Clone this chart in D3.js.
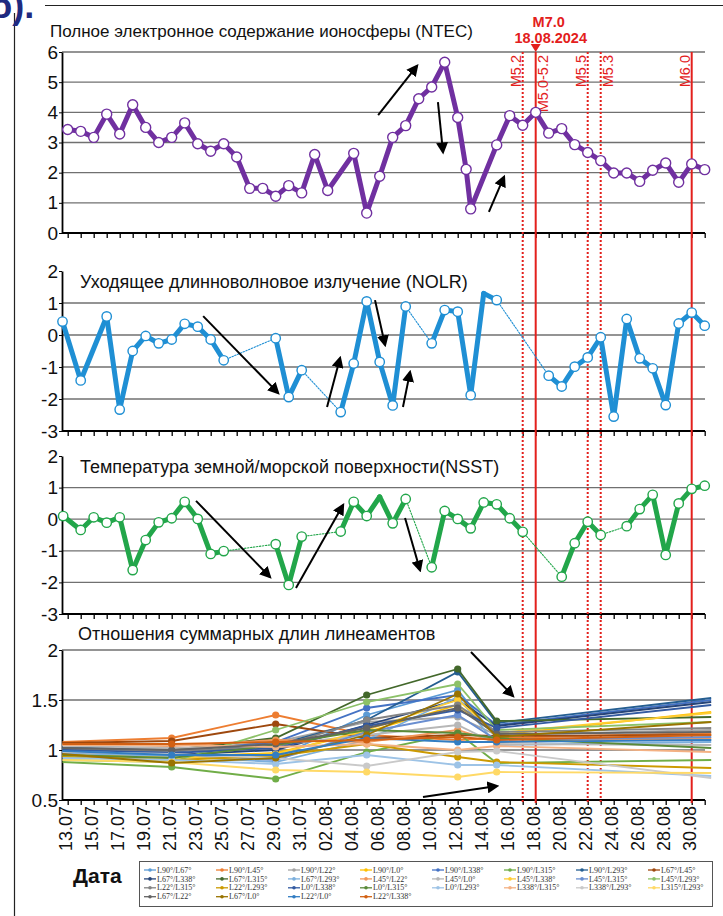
<!DOCTYPE html>
<html><head><meta charset="utf-8">
<script src="https://cdn.jsdelivr.net/npm/d3@7"></script>
<style>body{margin:0;background:#fff}svg{display:block}</style>
</head><body>
<svg id="c" width="723" height="916"></svg>
<script>
// ---------- DATA ----------
const dateLabels = ["13.07","15.07","17.07","19.07","21.07","23.07","25.07","27.07","29.07","31.07","02.08","04.08","06.08","08.08","10.08","12.08","14.08","16.08","18.08","20.08","22.08","24.08","26.08","28.08","30.08"];
const labelDays = [0,2,4,6,8,10,12,14,16,18,20,22,24,26,28,30,32,34,36,38,40,42,44,46,48];

const ntecDays = [0,1,2,3,4,5,6,7,8,9,10,11,12,13,14,15,16,17,18,19,20,22,23,24,25,26,27,28,29,30,30.65,31,33,34,35,36,37,38,39,40,41,42,43,44,45,46,47,48,49];
const ntecVals = [3.43,3.37,3.17,3.94,3.28,4.25,3.50,3.00,3.17,3.65,2.96,2.71,2.96,2.52,1.48,1.48,1.22,1.57,1.33,2.60,1.41,2.64,0.66,1.88,3.17,3.56,4.45,4.84,5.66,3.83,2.11,0.80,2.92,3.89,3.57,4.00,3.31,3.46,2.93,2.67,2.40,1.99,1.99,1.71,2.08,2.32,1.68,2.29,2.10];

const nolrDays = [-0.4,1,3,4,5,6,7,8,9,10,11,12,16,17,18,21,22,23,24,25,26,28,29,30,31,32,33,37,38,39,40,41,42,43,44,45,46,47,48,49];
const nolrVals = [0.42,-1.42,0.58,-2.33,-0.50,-0.03,-0.26,-0.14,0.35,0.26,-0.14,-0.79,-0.10,-1.94,-1.10,-2.41,-0.89,1.05,-0.84,-2.20,0.89,-0.26,0.78,0.73,-1.88,1.30,1.09,-1.27,-1.61,-0.99,-0.70,-0.07,-2.55,0.50,-0.73,-1.04,-2.19,0.36,0.70,0.29];
const nolrGapStarts = [12,18,26,33];
const nolrNoMarker = [32];

const nsstDays = [-0.35,1,2,3,4,5,6,7,8,9,10,11,12,16,17,18,21,22,23,24,25,26,28,29,30,31,32,33,34,35,38,39,40,41,43,44,45,46,47,48,49];
const nsstVals = [0.10,-0.34,0.06,-0.11,0.06,-1.61,-0.66,-0.10,0.03,0.55,0.01,-1.10,-1.01,-0.79,-2.08,-0.55,-0.39,0.55,0.10,0.71,-0.13,0.64,-1.52,0.26,0.01,-0.29,0.53,0.47,0.03,-0.40,-1.82,-0.76,-0.08,-0.50,-0.22,0.32,0.77,-1.13,0.50,0.96,1.06];
const nsstGapStarts = [12,18,26,35,41];
const nsstNoMarker = [24];

const lineDays = [-0.4,8,16,23,30,33,49.5];
const lineNames = ["L90°/L67°","L90°/L45°","L90°/L22°","L90°/L0°","L90°/L338°","L90°/L315°","L90°/L293°","L67°/L45°",
  "L67°/L338°","L67°/L315°","L67°/L293°","L45°/L22°","L45°/L0°","L45°/L338°","L45°/L315°","L45°/L293°",
  "L22°/L315°","L22°/L293°","L0°/L338°","L0°/L315°","L0°/L293°","L338°/L315°","L338°/L293°","L315°/L293°",
  "L67°/L22°","L67°/L0°","L22°/L0°","L22°/L338°"];
const lineValues = [
  [1.02,0.97,0.92,1.35,1.60,1.12,1.10],
  [1.08,1.12,1.35,1.15,1.10,1.12,1.17],
  [1.05,1.00,1.08,1.28,1.33,1.15,1.20],
  [0.95,0.93,0.97,1.18,1.45,1.15,1.38],
  [1.00,0.98,1.08,1.42,1.55,1.25,1.50],
  [0.88,0.83,0.71,0.98,1.17,0.87,0.90],
  [1.03,0.99,1.05,1.30,1.78,1.27,1.52],
  [1.07,1.09,1.26,1.12,1.15,1.14,1.15],
  [0.99,0.95,1.00,1.25,1.50,1.24,1.48],
  [1.00,1.00,1.12,1.55,1.81,1.29,1.33],
  [0.97,0.94,0.88,1.10,1.53,1.05,1.08],
  [1.06,1.04,1.10,1.08,1.20,1.08,1.12],
  [1.04,1.02,1.05,1.15,1.25,1.06,1.05],
  [0.94,0.92,0.96,1.20,1.50,1.17,1.37],
  [0.98,0.96,0.90,1.18,1.35,1.10,1.13],
  [0.90,0.88,1.20,1.48,1.66,1.20,1.28],
  [1.01,0.99,1.03,1.30,1.45,1.18,1.22],
  [0.93,0.90,0.94,1.06,0.93,0.88,0.82],
  [1.00,0.97,1.02,1.24,1.40,1.22,1.45],
  [0.95,0.92,1.05,1.20,1.17,1.12,1.02],
  [0.92,0.90,0.86,0.95,0.85,0.85,0.74],
  [1.05,1.05,1.03,1.06,1.00,1.04,0.98],
  [0.98,0.96,0.92,0.84,0.98,0.99,0.72],
  [0.90,0.88,0.80,0.78,0.73,0.78,0.77],
  [1.02,1.00,1.06,1.22,1.42,1.16,1.18],
  [0.96,0.87,0.92,1.15,1.56,1.13,1.28],
  [0.99,0.95,0.95,1.12,1.08,1.08,1.10],
  [1.06,1.06,1.08,1.10,1.13,1.10,1.15]
];
const linePalette = ["#5B9BD5","#ED7D31","#A5A5A5","#FFC000","#4472C4","#70AD47","#255E91","#9E480E",
  "#264478","#43682B","#7CAFDD","#F1975A","#B7B7B7","#FFCD33","#698ED0","#8CC168",
  "#848484","#CC9A00","#335AA1","#5A8A39","#9DC3E6","#F4B183","#C9C9C9","#FFD966",
  "#636363","#997300","#327DC2","#D26012"];

const eventDays = [35,36,40,41,48];
const eventLabels = ["M5.2","M5.0-5.2","M5.5","M5.3","M6.0"];
const eventSolid = [false,true,false,false,true];
const eventSide = [-1,1,-1,1,-1];
const mainEventDay = 36;
const mainEventText = ["M7.0","18.08.2024"];

const titles = ["Полное электронное содержание ионосферы (NTEC)","Уходящее длинноволновое излучение (NOLR)","Температура земной/морской поверхности(NSST)","Отношения суммарных длин линеаментов"];

// arrows: [panel, d0, v0, d1, v1]
const arrows = [
  [0,23.88,3.91,26.87,5.54],[0,28.48,4.34,28.87,2.68],[0,32.4,0.70,33.56,1.86],
  [1,10.42,0.59,16.18,-1.81],[1,19.95,-2.25,20.95,-0.72],[1,23.64,1.09,24.41,-0.31],[1,25.79,-2.25,26.33,-1.16],
  [2,9.87,0.58,15.56,-1.83],[2,17.56,-2.18,21.18,0.45],[2,25.95,0.04,27.1,-1.61],
  [3,31.02,1.98,34.25,1.54],[3,27.33,0.53,33.02,0.64]
];

// ---------- DRAW ----------
const svg = d3.select("#c");
const FONT = "'Liberation Sans', Arial, sans-serif";
svg.append("rect").attr("width",723).attr("height",916).attr("fill","#fff");

const x = d3.scaleLinear().domain([0,49]).range([67.7,704.7]);
const AX = 62, RX = 705;
const yS = [
  d3.scaleLinear().domain([0,6]).range([233,52]),
  d3.scaleLinear().domain([-3,2]).range([431,271]),
  d3.scaleLinear().domain([-3,2]).range([614,456]),
  d3.scaleLinear().domain([0.5,2]).range([800,650])
];
const yTicks = [[0,1,2,3,4,5,6],[-3,-2,-1,0,1,2],[-3,-2,-1,0,1,2],[0.5,1,1.5,2]];
const gridTicks = [[1,2,3,4,5,6],[-2,-1,0,1],[-2,-1,0,1],[1,1.5,2]];
const titlePos = [[50,37],[80,288],[80,473],[78,640]];
const titleSize = [17,18,18,18];

// frame
svg.append("line").attr("x1",45).attr("x2",723).attr("y1",5.5).attr("y2",5.5).attr("stroke","#222").attr("stroke-width",1);
svg.append("line").attr("x1",14.5).attr("x2",14.5).attr("y1",13).attr("y2",916).attr("stroke","#222").attr("stroke-width",1.2);
svg.append("text").attr("x",-10).attr("y",18).attr("font-family",FONT).attr("font-weight","bold")
  .attr("font-size",36).attr("fill","#1f2a80").text("б).");

yS.forEach((y,p)=>{
  const g = svg.append("g");
  g.selectAll("line.grid").data(gridTicks[p]).join("line")
    .attr("x1",AX).attr("x2",RX).attr("y1",d=>y(d)).attr("y2",d=>y(d))
    .attr("stroke","#707070").attr("stroke-width",1.3);
  const yb = y.range()[0];
  g.append("line").attr("x1",AX).attr("x2",RX).attr("y1",yb).attr("y2",yb).attr("stroke","#000").attr("stroke-width",1.8);
  const xa = g.append("g").attr("transform",`translate(0,${yb})`)
    .call(d3.axisBottom(x).tickValues(d3.range(50)).tickSize(5).tickSizeOuter(0).tickFormat(""));
  xa.select(".domain").remove();
  xa.selectAll("line").attr("stroke","#000").attr("stroke-width",1.3);
  const ya = g.append("g").attr("transform",`translate(${AX},0)`)
    .call(d3.axisLeft(y).tickValues(yTicks[p]).tickSize(3).tickPadding(1).tickSizeOuter(0).tickFormat(d=>String(d)));
  ya.select(".domain").attr("stroke","#000").attr("stroke-width",1.8);
  ya.selectAll("line").attr("stroke","#000");
  ya.selectAll("text").attr("font-family",FONT).attr("font-size",19).attr("fill","#111");
  g.append("text").attr("x",titlePos[p][0]).attr("y",titlePos[p][1]).attr("font-family",FONT)
    .attr("font-size",titleSize[p]).attr("fill","#111").text(titles[p]);
});

// event lines
const evTop = 52, evBot = 803;
eventDays.forEach((d,i)=>{
  svg.append("line").attr("x1",x(d)).attr("x2",x(d)).attr("y1",evTop).attr("y2",evBot)
    .attr("stroke","#e3201c").attr("stroke-width",2)
    .attr("stroke-dasharray",eventSolid[i]?null:"2,2");
  svg.append("text").attr("transform",`translate(${x(d)+eventSide[i]*7},55) rotate(-90)`)
    .attr("dy","0.35em").attr("text-anchor","end").attr("font-family",FONT).attr("font-size",14.5)
    .attr("fill","#e3201c").text(eventLabels[i]);
});
const mx = x(mainEventDay);
svg.append("path").attr("d",`M${mx-5},${44}L${mx+5},${44}L${mx},${52}Z`).attr("fill","#e3201c");
svg.append("text").attr("x",mx+13).attr("y",27).attr("text-anchor","middle").attr("font-family",FONT)
  .attr("font-weight","bold").attr("font-size",14.5).attr("fill","#e3201c").text(mainEventText[0]);
svg.append("text").attr("x",mx+15).attr("y",42.5).attr("text-anchor","middle").attr("font-family",FONT)
  .attr("font-weight","bold").attr("font-size",14.5).attr("fill","#e3201c").text(mainEventText[1]);

// line series helper
function drawSeries(days, vals, y, color, gaps, noMarker, r){
  const pts = days.map((d,i)=>({d, v:vals[i]}));
  const line = d3.line().x(p=>x(p.d)).y(p=>y(p.v));
  const g = svg.append("g");
  for(let i=0;i<pts.length-1;i++){
    const dotted = gaps.includes(pts[i].d);
    g.append("path").attr("d",line([pts[i],pts[i+1]])).attr("fill","none")
      .attr("stroke",color).attr("stroke-width",dotted?1.1:5).attr("stroke-linecap","round")
      .attr("stroke-dasharray",dotted?"1.5,1.5":null);
  }
  g.selectAll("circle").data(pts.filter(p=>!noMarker.includes(p.d))).join("circle")
    .attr("cx",p=>x(p.d)).attr("cy",p=>y(p.v)).attr("r",r)
    .attr("fill","#fff").attr("stroke",color).attr("stroke-width",1.4);
}
drawSeries(ntecDays, ntecVals, yS[0], "#7030a0", [], [], 5);
drawSeries(nolrDays, nolrVals, yS[1], "#1f8fd4", nolrGapStarts, nolrNoMarker, 4.7);
drawSeries(nsstDays, nsstVals, yS[2], "#22a64a", nsstGapStarts, nsstNoMarker, 4.7);

// lineament series
const lg = svg.append("g");
const lline = d3.line().x(p=>x(p.d)).y(p=>yS[3](p.v));
lineValues.forEach((vals,k)=>{
  const pts = lineDays.map((d,i)=>({d, v:vals[i]}));
  lg.append("path").attr("d",lline(pts)).attr("fill","none").attr("stroke",linePalette[k]).attr("stroke-width",1.8);
  lg.selectAll(null).data(pts.slice(1,6)).join("circle")
    .attr("cx",p=>x(p.d)).attr("cy",p=>yS[3](p.v)).attr("r",3.6).attr("fill",linePalette[k]);
});

// arrows
const defs = svg.append("defs");
defs.append("marker").attr("id","ah").attr("viewBox","0 0 10 10").attr("refX",8).attr("refY",5)
  .attr("markerWidth",6).attr("markerHeight",6).attr("orient","auto")
  .append("path").attr("d","M0,0L10,5L0,10Z").attr("fill","#000");
arrows.forEach(a=>{
  const y = yS[a[0]];
  svg.append("line").attr("x1",x(a[1])).attr("y1",y(a[2])).attr("x2",x(a[3])).attr("y2",y(a[4]))
    .attr("stroke","#000").attr("stroke-width",2).attr("marker-end","url(#ah)");
});

// x labels
svg.append("g").selectAll("text").data(labelDays).join("text")
  .attr("transform",(d)=>`translate(${x(d)-2},806) rotate(-90)`)
  .attr("dy","0.35em").attr("text-anchor","end").attr("font-family",FONT).attr("font-size",18).attr("fill","#111")
  .text((d,i)=>dateLabels[i]);

svg.append("text").attr("x",73).attr("y",883).attr("font-family",FONT).attr("font-weight","bold")
  .attr("font-size",21).attr("fill","#111").text("Дата");

// legend
const leg = svg.append("g");
leg.append("rect").attr("x",139.5).attr("y",861.5).attr("width",573).attr("height",45)
  .attr("fill","#fff").attr("stroke","#555").attr("stroke-width",1);
lineNames.forEach((n,k)=>{
  const col = k%8, row = Math.floor(k/8);
  const lx = 144 + col*72, ly = 870 + row*8.9;
  leg.append("line").attr("x1",lx).attr("x2",lx+12).attr("y1",ly).attr("y2",ly).attr("stroke",linePalette[k]).attr("stroke-width",1.3);
  leg.append("circle").attr("cx",lx+6).attr("cy",ly).attr("r",1.8).attr("fill",linePalette[k]);
  leg.append("text").attr("x",lx+13).attr("y",ly).attr("dy","0.33em").attr("font-family","'Liberation Serif','Times New Roman',serif")
    .attr("font-size",8).attr("fill","#333").text(n);
});
</script>
</body></html>
